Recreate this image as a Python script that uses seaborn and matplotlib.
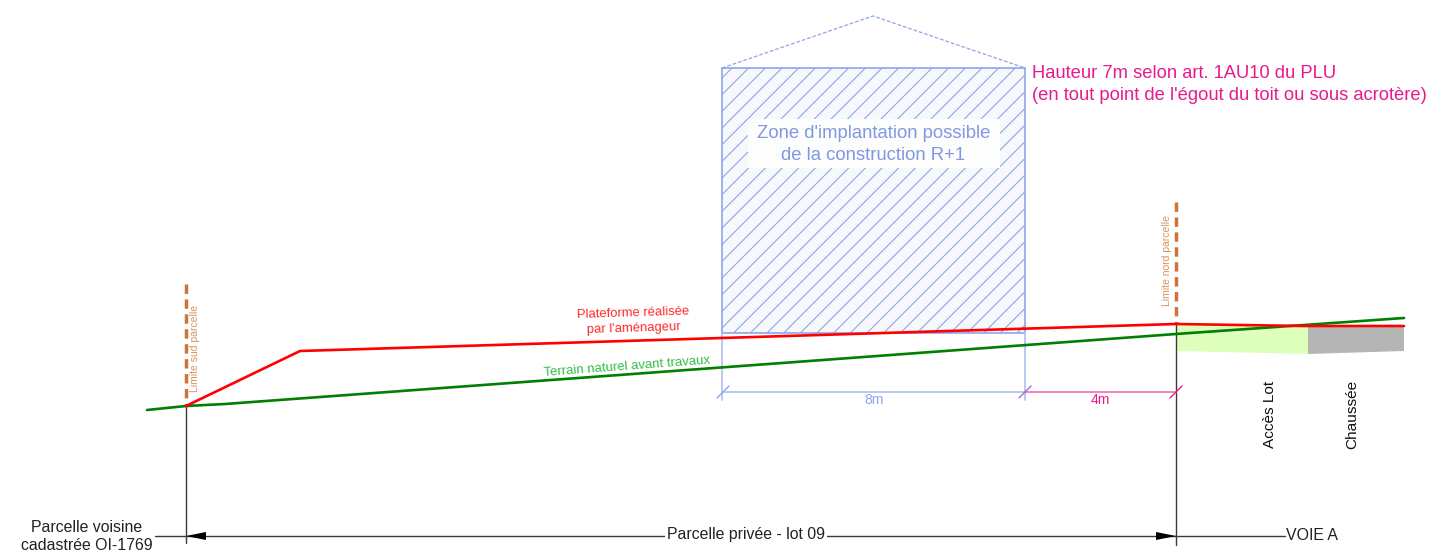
import matplotlib
matplotlib.use("Agg")
from matplotlib import pyplot as plt
from matplotlib.patches import Rectangle
import pandas as pd
import seaborn as sns

sns.set_style("white")
plt.rcParams["font.family"] = ["Liberation Sans", "DejaVu Sans"]
plt.rcParams["hatch.linewidth"] = 0.8

BLUE = "#8fa6ea"
PINK = "#e8198b"
ORANGE = "#cf7338"
DARK = "#3a3a3a"

# profiles, in picture pixels
terrain_x = [147, 186, 225, 1176, 1404]
terrain_y = [410, 406, 404, 334, 318]
plateforme_x = [186, 300, 1176, 1304, 1404]
plateforme_y = [406, 351, 324, 326, 326]

limite_sud_x = [186, 186]
limite_sud_y = [284, 406]
limite_nord_x = [1176, 1176]
limite_nord_y = [202, 324]

roof_x = [722, 873, 1025]
roof_y = [68, 16, 68]
zone_x = [722, 1025]
zone_y = [68, 333]
label_box_x = [748, 1000]
label_box_y = [119, 168]

acces_x = [1176, 1308, 1308, 1176]
acces_y = [324, 326, 354, 351]
chaussee_x = [1308, 1404, 1404, 1308]
chaussee_y = [326, 326, 351, 354]


def draw_line(ax, xs, ys, color, lw, **kw):
    df = pd.DataFrame({"x": xs, "y": ys})
    sns.lineplot(data=df, x="x", y="y", sort=False, estimator=None, color=color,
                 linewidth=lw, ax=ax, legend=False, **kw)


fig, ax = plt.subplots(figsize=(14.31, 5.52), dpi=100)
ax.set_position([0, 0, 1, 1])

ax.fill(acces_x, acces_y, color="#ddffbb", lw=0, zorder=1)
ax.fill(chaussee_x, chaussee_y, color="#b5b5b5", lw=0, zorder=1)

# building zone
ax.add_patch(Rectangle((zone_x[0], zone_y[0]), zone_x[1] - zone_x[0], zone_y[1] - zone_y[0],
                       facecolor="#f7f8fc", edgecolor=BLUE, hatch="//", lw=1.2, zorder=1))
draw_line(ax, roof_x, roof_y, BLUE, 0.9, linestyle=(0, (3, 1.5)), zorder=2)
ax.add_patch(Rectangle((label_box_x[0], label_box_y[0]), label_box_x[1] - label_box_x[0],
                       label_box_y[1] - label_box_y[0], facecolor="#fdfdfe", edgecolor="none", zorder=2))
ax.text(873.5, 144.5, "Zone d'implantation possible\nde la construction R+1", color="#7f98e2",
        fontsize=13.35, ha="center", va="center", linespacing=1.32, zorder=3)

# reference lines
draw_line(ax, [186, 186], [406, 543], DARK, 1, zorder=2)
draw_line(ax, [1176, 1176], [324, 545], DARK, 1, zorder=2)
draw_line(ax, [722, 722], [333, 400], "#b4c3f0", 1.3, zorder=2)
draw_line(ax, [1025, 1025], [333, 400], "#b4c3f0", 1.3, zorder=2)

# property limits
draw_line(ax, limite_sud_x, limite_sud_y, ORANGE, 2.5, linestyle=(0, (2.7, 1.6)), zorder=3)
draw_line(ax, limite_nord_x, limite_nord_y, ORANGE, 2.5, linestyle=(0, (2.7, 1.6)), zorder=3)
ax.text(195, 348, "Limite sud parcelle", color="#d9945f", fontsize=7.5, rotation=90,
        ha="center", va="center")
ax.text(1167, 261, "Limite nord parcelle", color="#d9945f", fontsize=7.5, rotation=90,
        ha="center", va="center")

# ground
draw_line(ax, terrain_x, terrain_y, "#008000", 1.9, zorder=4)
draw_line(ax, plateforme_x, plateforme_y, "#ff0000", 1.9, zorder=5)
ax.text(633.5, 321, "Plateforme réalisée\npar l'aménageur", color="#ff2a2a", fontsize=9.4,
        rotation=1.8, ha="center", va="center", linespacing=1.38, rotation_mode="anchor")
ax.text(627, 367, "Terrain naturel avant travaux", color="#35bd45", fontsize=9.45,
        rotation=4.3, ha="center", va="center", rotation_mode="anchor")

# dimensions 8m / 4m
draw_line(ax, [722, 1025], [392, 392], "#b4c3f0", 1.3, zorder=2)
draw_line(ax, [1025, 1176], [392, 392], "#f07ab4", 1.3, zorder=2)
draw_line(ax, [717, 729], [398, 386], BLUE, 1, zorder=3)
draw_line(ax, [1019, 1031], [398, 386], "#9a70d0", 1, zorder=3)
draw_line(ax, [1170, 1182], [398, 386], PINK, 1, zorder=3)
ax.text(874, 400.5, "8m", color=BLUE, fontsize=10, ha="center", va="center")
ax.text(1100, 400.5, "4m", color=PINK, fontsize=10, ha="center", va="center")

# height note
ax.text(1032, 73.5, "Hauteur 7m selon art. 1AU10 du PLU", color=PINK, fontsize=13.2, ha="left", va="center")
ax.text(1032, 95.5, "(en tout point de l'égout du toit ou sous acrotère)", color=PINK, fontsize=13.2,
        ha="left", va="center")

# bottom dimension
draw_line(ax, [155, 1285], [536, 536], DARK, 1, zorder=2)
ax.fill([186, 206, 206], [536, 532, 540], color="black", lw=0, zorder=3)
ax.fill([1176, 1156, 1156], [536, 532, 540], color="black", lw=0, zorder=3)
ax.text(746, 535, "Parcelle privée - lot 09", color="#222222", fontsize=11.4, ha="center", va="center",
        zorder=4, bbox=dict(facecolor="white", edgecolor="none", pad=1.5))
ax.text(1312, 535, "VOIE A", color="#222222", fontsize=11.4, ha="center", va="center")
ax.text(86.5, 527, "Parcelle voisine", color="#222222", fontsize=11.4, ha="center", va="center")
ax.text(86.5, 545, "cadastrée OI-1769", color="#222222", fontsize=11.4, ha="center", va="center")
ax.text(1269.5, 414.5, "Accès Lot", color="#111111", fontsize=11.1, rotation=90, ha="center", va="center")
ax.text(1352.5, 414, "Chaussée", color="#111111", fontsize=11.1, rotation=90, ha="center", va="center")

ax.set_xlim(0, 1431)
ax.set_ylim(552, 0)
ax.set_axis_off()
fig.savefig("out.png", dpi=100)
